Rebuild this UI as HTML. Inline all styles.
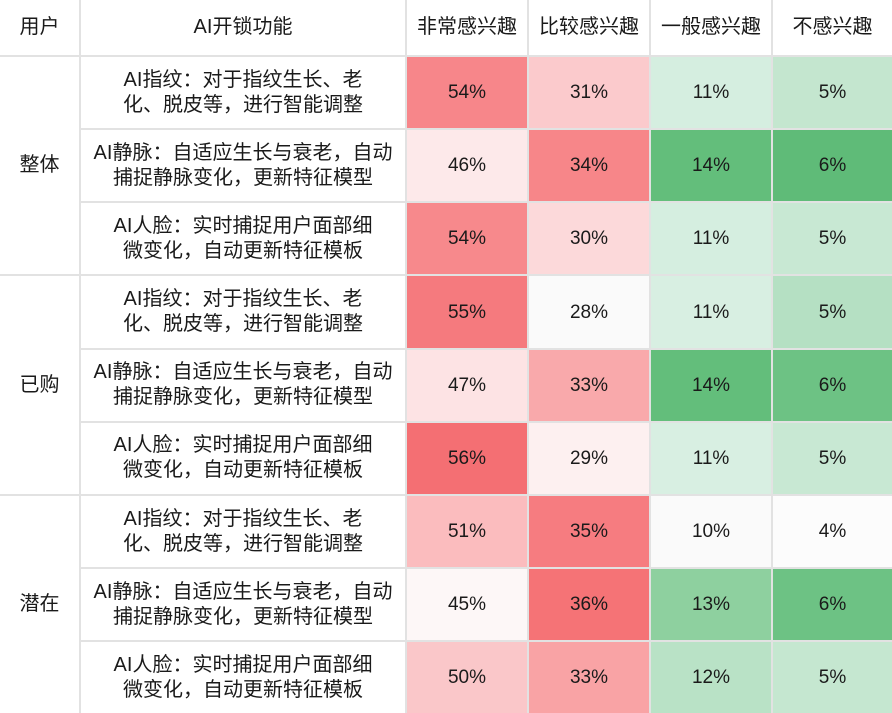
<!DOCTYPE html><html><head><meta charset="utf-8"><style>
body{margin:0;width:892px;height:713px;background:#fff;overflow:hidden;font-family:"Liberation Sans","Noto Sans CJK SC",sans-serif;color:#1a1a1a}
table{border-collapse:collapse;width:892px;height:713px;table-layout:fixed;border-style:hidden}
td,th{border:2px solid #e2e2e2;text-align:center;font-weight:normal;font-size:19px;line-height:25px;padding:0}
th{height:55px;font-size:20px}
td.f{font-size:20px;white-space:nowrap}
td.u{font-size:20px}
</style></head><body>
<table>
<colgroup><col style="width:80px"><col style="width:326px"><col style="width:122px"><col style="width:122px"><col style="width:122px"><col style="width:120px"></colgroup>
<tr><th>用户</th><th>AI开锁功能</th><th>非常感兴趣</th><th>比较感兴趣</th><th>一般感兴趣</th><th>不感兴趣</th></tr>
<tr><td class="u" rowspan="3">整体</td><td class="f">AI指纹：对于指纹生长、老<br>化、脱皮等，进行智能调整</td><td style="background:#f7868a">54%</td><td style="background:#fbcacc">31%</td><td style="background:#d5eee0">11%</td><td style="background:#c4e6cf">5%</td></tr>
<tr><td class="f">AI静脉：自适应生长与衰老，自动<br>捕捉静脉变化，更新特征模型</td><td style="background:#fde9ea">46%</td><td style="background:#f78689">34%</td><td style="background:#63be7b">14%</td><td style="background:#5fbb78">6%</td></tr>
<tr><td class="f">AI人脸：实时捕捉用户面部细<br>微变化，自动更新特征模板</td><td style="background:#f7898c">54%</td><td style="background:#fcd9da">30%</td><td style="background:#d5eee0">11%</td><td style="background:#c8e8d3">5%</td></tr>
<tr><td class="u" rowspan="3">已购</td><td class="f">AI指纹：对于指纹生长、老<br>化、脱皮等，进行智能调整</td><td style="background:#f57a7e">55%</td><td style="background:#fafafa">28%</td><td style="background:#d8efe2">11%</td><td style="background:#b5e0c3">5%</td></tr>
<tr><td class="f">AI静脉：自适应生长与衰老，自动<br>捕捉静脉变化，更新特征模型</td><td style="background:#fde3e4">47%</td><td style="background:#f9a9ab">33%</td><td style="background:#63be7b">14%</td><td style="background:#6dc284">6%</td></tr>
<tr><td class="f">AI人脸：实时捕捉用户面部细<br>微变化，自动更新特征模板</td><td style="background:#f46f73">56%</td><td style="background:#fdf0f0">29%</td><td style="background:#d8efe2">11%</td><td style="background:#c8e8d3">5%</td></tr>
<tr><td class="u" rowspan="3">潜在</td><td class="f">AI指纹：对于指纹生长、老<br>化、脱皮等，进行智能调整</td><td style="background:#fbbcbe">51%</td><td style="background:#f67c80">35%</td><td style="background:#fafafa">10%</td><td style="background:#fcfcfc">4%</td></tr>
<tr><td class="f">AI静脉：自适应生长与衰老，自动<br>捕捉静脉变化，更新特征模型</td><td style="background:#fdf7f7">45%</td><td style="background:#f57376">36%</td><td style="background:#8ed09f">13%</td><td style="background:#6dc284">6%</td></tr>
<tr><td class="f">AI人脸：实时捕捉用户面部细<br>微变化，自动更新特征模板</td><td style="background:#fac7c9">50%</td><td style="background:#f9a3a5">33%</td><td style="background:#b9e2c6">12%</td><td style="background:#c5e7d0">5%</td></tr>
</table>
</body></html>
